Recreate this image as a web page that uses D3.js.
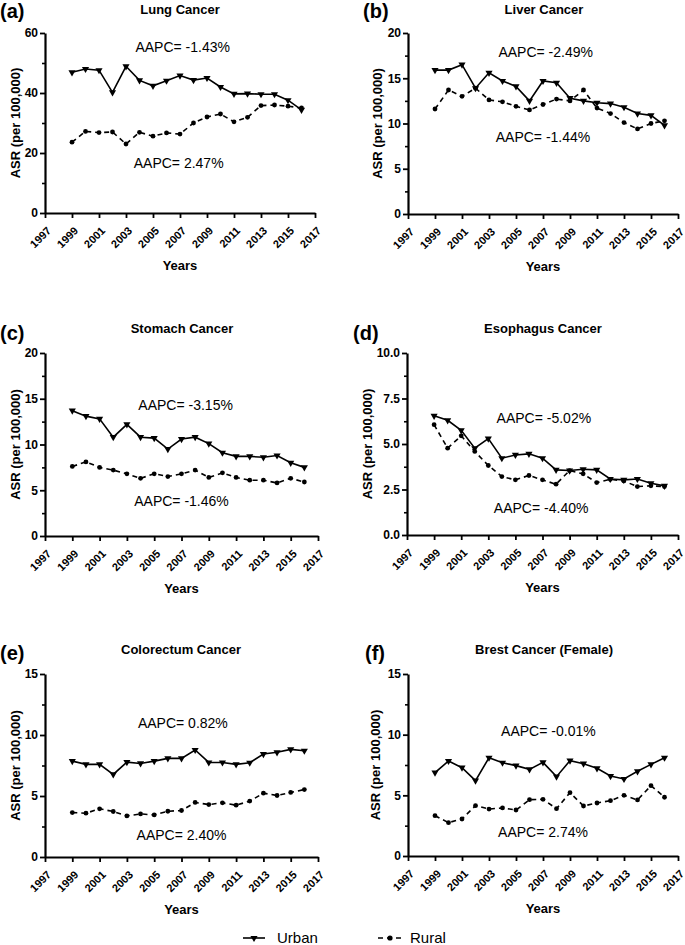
<!DOCTYPE html>
<html><head><meta charset="utf-8">
<script src="https://cdn.jsdelivr.net/npm/d3@7"></script>
<style>
body{margin:0;background:#fff;}
svg{font-family:"Liberation Sans",Arial,sans-serif;}
</style></head>
<body><svg id="c" width="685" height="945"></svg>
<script>
const years = d3.range(1999, 2017);
const xTickYears = [1997,1999,2001,2003,2005,2007,2009,2011,2013,2015,2017];

const titles = ["Lung Cancer","Liver Cancer","Stomach Cancer","Esophagus Cancer","Colorectum Cancer","Brest Cancer (Female)"];
const letters = ["(a)","(b)","(c)","(d)","(e)","(f)"];
const urbanAAPC = ["AAPC= -1.43%","AAPC= -2.49%","AAPC= -3.15%","AAPC= -5.02%","AAPC= 0.82%","AAPC= -0.01%"];
const ruralAAPC = ["AAPC= 2.47%","AAPC= -1.44%","AAPC= -1.46%","AAPC= -4.40%","AAPC= 2.40%","AAPC= 2.74%"];

const lungUrban = [46.9,48.0,47.6,40.2,48.9,44.2,42.4,44.1,45.8,44.3,45.0,42.0,39.7,39.8,39.6,39.6,37.6,34.4];
const lungRural = [23.6,27.2,26.8,27.0,23.0,26.9,25.6,26.7,26.3,30.0,32.0,33.0,30.4,31.9,35.8,36.0,35.6,35.0];
const liverUrban = [15.9,15.9,16.5,13.9,15.6,14.7,14.1,12.5,14.7,14.5,12.8,12.5,12.3,12.2,11.8,11.1,10.9,9.8];
const liverRural = [11.6,13.7,13.0,13.9,12.6,12.4,11.9,11.5,12.1,12.7,12.5,13.7,11.7,11.1,10.1,9.4,10.0,10.3];
const stomachUrban = [13.7,13.1,12.8,10.8,12.2,10.8,10.7,9.5,10.6,10.8,10.1,9.1,8.7,8.7,8.6,8.8,8.0,7.5];
const stomachRural = [7.6,8.1,7.5,7.2,6.8,6.3,6.8,6.5,6.8,7.2,6.4,6.9,6.4,6.1,6.1,5.8,6.3,5.9];
const esophagusUrban = [6.55,6.3,5.75,4.77,5.3,4.22,4.4,4.46,4.22,3.58,3.54,3.61,3.58,3.08,3.03,3.08,2.84,2.7];
const esophagusRural = [6.06,4.77,5.45,4.59,3.82,3.21,3.03,3.27,3.03,2.79,3.54,3.36,2.88,3.06,2.97,2.66,2.7,2.66];
const colorectumUrban = [7.86,7.59,7.59,6.77,7.78,7.67,7.86,8.08,8.08,8.77,7.75,7.75,7.59,7.73,8.44,8.58,8.82,8.71];
const colorectumRural = [3.64,3.59,3.95,3.73,3.37,3.53,3.45,3.75,3.81,4.47,4.3,4.44,4.25,4.58,5.23,5.04,5.29,5.53];
const breastUrban = [6.87,7.83,7.28,6.21,8.1,7.69,7.45,7.14,7.72,6.54,7.86,7.61,7.23,6.59,6.35,6.98,7.55,8.1];
const breastRural = [3.32,2.75,3.05,4.15,3.87,3.96,3.79,4.64,4.67,3.9,5.22,4.12,4.37,4.56,5.0,4.62,5.8,4.84];

const urbanSeries = [lungUrban, liverUrban, stomachUrban, esophagusUrban, colorectumUrban, breastUrban];
const ruralSeries = [lungRural, liverRural, stomachRural, esophagusRural, colorectumRural, breastRural];
const yMax = [60,20,20,10,15,15];
const yMajorStep = [20,5,5,2.5,5,5];
const yFormat = [d3.format("d"),d3.format("d"),d3.format("d"),d3.format(".1f"),d3.format("d"),d3.format("d")];
// annotation anchors in data units (year, value)
const annotUpper = [[2007.2,55.3],[2007.2,17.9],[2007.3,14.3],[2007.1,6.4],[2007.1,11.0],[2007.4,10.3]];
const annotLower = [[2006.9,16.7],[2007.0,8.5],[2007.0,3.8],[2006.9,1.5],[2007.0,1.8],[2007.0,2.0]];

// layout (pixel boxes)
const boxes = [
  {x0:45,x1:315,yt:33,yb:213, lx:0, ly:18, tx:180, ty:14, ylx:15},
  {x0:408,x1:678,yt:33,yb:214, lx:363, ly:18, tx:544, ty:14, ylx:377},
  {x0:45,x1:318,yt:353,yb:536, lx:0, ly:340, tx:182, ty:333, ylx:15},
  {x0:407,x1:678,yt:353,yb:535, lx:353, ly:340, tx:543, ty:333, ylx:367},
  {x0:45,x1:318,yt:674,yb:857, lx:0, ly:660, tx:181, ty:654, ylx:15},
  {x0:408,x1:678,yt:674,yb:856, lx:365, ly:660, tx:544, ty:654, ylx:375}
];

const svg = d3.select("#c");
const tri = d3.symbol().type(d3.symbolTriangle).size(22);

boxes.forEach((b,i)=>{
  const g = svg.append("g");
  const x = d3.scaleLinear().domain([1997,2017]).range([b.x0,b.x1]);
  const y = d3.scaleLinear().domain([0,yMax[i]]).range([b.yb,b.yt]);

  // minor y ticks
  const minorVals = d3.range(0, yMax[i]+1e-9, yMajorStep[i]/2).filter((v,k)=>k%2===1);
  g.append("g").attr("transform",`translate(${b.x0},0)`)
    .call(d3.axisLeft(y).tickValues(minorVals).tickSize(3).tickFormat(""))
    .call(s=>{s.select(".domain").remove();s.selectAll("line").attr("stroke","#000").attr("stroke-width",1.6);});
  // major y
  const majorVals = d3.range(0, yMax[i]+1e-9, yMajorStep[i]);
  g.append("g").attr("transform",`translate(${b.x0},0)`)
    .call(d3.axisLeft(y).tickValues(majorVals).tickSize(5).tickSizeOuter(0).tickPadding(2).tickFormat(yFormat[i]))
    .call(s=>{
      s.select(".domain").attr("stroke","#000").attr("stroke-width",2.2);
      s.selectAll("line").attr("stroke","#000").attr("stroke-width",1.8);
      s.selectAll("text").attr("font-size",12).attr("font-weight","bold").attr("fill","#000")
        .attr("font-family","'Liberation Sans',Arial,sans-serif");
    });
  // x axis
  g.append("g").attr("transform",`translate(0,${b.yb})`)
    .call(d3.axisBottom(x).tickValues(xTickYears).tickSize(5).tickSizeOuter(0).tickFormat(d3.format("d")))
    .call(s=>{
      s.select(".domain").attr("stroke","#000").attr("stroke-width",2.2);
      s.selectAll("line").attr("stroke","#000").attr("stroke-width",1.8);
      s.selectAll("text").attr("font-size",11).attr("font-weight","bold").attr("fill","#000")
        .attr("font-family","'Liberation Sans',Arial,sans-serif")
        .attr("text-anchor","end").attr("dy","0.35em")
        .attr("transform","translate(-2,10) rotate(-45)");
    });

  // lines
  const line = d3.line().x((d,k)=>x(years[k])).y(d=>y(d));
  g.append("path").datum(urbanSeries[i]).attr("d",line).attr("fill","none").attr("stroke","#000").attr("stroke-width",1.6);
  g.append("path").datum(ruralSeries[i]).attr("d",line).attr("fill","none").attr("stroke","#000").attr("stroke-width",1.6).attr("stroke-dasharray","5,4");
  g.selectAll(".u").data(urbanSeries[i]).join("path")
    .attr("d",tri).attr("transform",(d,k)=>`translate(${x(years[k])},${y(d)}) rotate(180)`).attr("fill","#000");
  g.selectAll(".r").data(ruralSeries[i]).join("circle")
    .attr("cx",(d,k)=>x(years[k])).attr("cy",d=>y(d)).attr("r",2.4).attr("fill","#000");

  // texts
  g.append("text").attr("x",b.lx).attr("y",b.ly).text(letters[i]).attr("font-size",20).attr("font-weight","bold");
  g.append("text").attr("x",b.tx).attr("y",b.ty).text(titles[i]).attr("font-size",13).attr("font-weight","bold").attr("text-anchor","middle");
  g.append("text").attr("transform",`translate(${b.ylx},${(b.yt+b.yb)/2}) rotate(-90)`).attr("dy","0.35em")
    .text("ASR (per 100,000)").attr("font-size",13).attr("font-weight","bold").attr("text-anchor","middle");
  g.append("text").attr("x",(b.x0+b.x1)/2).attr("y",b.yb+57).text("Years").attr("font-size",13).attr("font-weight","bold").attr("text-anchor","middle");
  g.append("text").attr("x",x(annotUpper[i][0])).attr("y",y(annotUpper[i][1])).attr("dy","0.35em")
    .text(urbanAAPC[i]).attr("font-size",14).attr("text-anchor","middle");
  g.append("text").attr("x",x(annotLower[i][0])).attr("y",y(annotLower[i][1])).attr("dy","0.35em")
    .text(ruralAAPC[i]).attr("font-size",14).attr("text-anchor","middle");
});

// legend
const lg = svg.append("g");
lg.append("line").attr("x1",243).attr("x2",265).attr("y1",938).attr("y2",938).attr("stroke","#000").attr("stroke-width",1.6);
lg.append("path").attr("d",tri).attr("transform","translate(254,938) rotate(180)");
lg.append("text").attr("x",277).attr("y",938).attr("dy","0.35em").text("Urban").attr("font-size",15);
lg.append("line").attr("x1",378).attr("x2",403).attr("y1",938).attr("y2",938).attr("stroke","#000").attr("stroke-width",1.6).attr("stroke-dasharray","5,4");
lg.append("circle").attr("cx",390).attr("cy",938).attr("r",2.6);
lg.append("text").attr("x",410).attr("y",938).attr("dy","0.35em").text("Rural").attr("font-size",15);
</script></body></html>
